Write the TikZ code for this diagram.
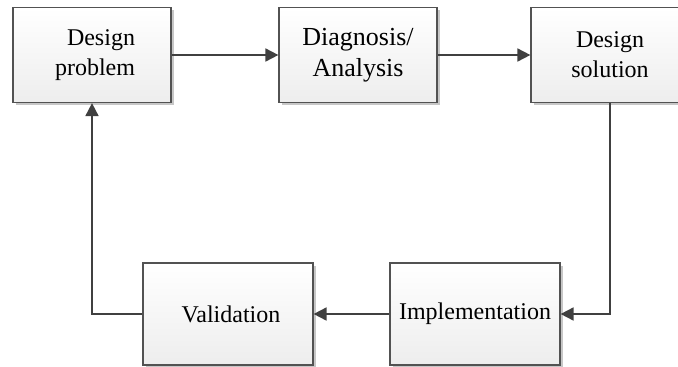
\documentclass[tikz,border=0pt]{standalone}
\usepackage{fontspec}
\setmainfont{Liberation Serif}
\usetikzlibrary{arrows.meta,shadows}
\begin{document}
\begin{tikzpicture}[x=1pt,y=-1pt,
  stagebox/.style={draw=black!68, line width=1.2pt, top color=white, bottom color=black!7,
    drop shadow={shadow xshift=2.5pt, shadow yshift=-2.5pt, fill=black!22, opacity=1},
    inner sep=0pt, align=center,
    font=\fontsize{24}{30}\selectfont},
  toprow/.style={stagebox, minimum width=158pt, minimum height=95pt},
  botrow/.style={stagebox, minimum width=170pt, minimum height=102pt},
  flow/.style={draw=black!75, line width=1.8pt,
    -{Triangle[length=13pt,width=13pt]}}
]
\useasboundingbox (0,0) rectangle (678,367);
\clip (0,0) rectangle (678,367);

% upper row
\node[toprow, text width=86pt, align=right] (problem) at (92,55) {Design\\problem};
\node[toprow, font=\fontsize{26}{31}\selectfont] (diag) at (358,55) {Diagnosis/\\Analysis};
\node[toprow] (solution) at (610,55) {Design\\solution};

% lower row
\node[botrow] (valid) at (228,314) {\hspace{6pt}Validation};
\node[botrow] (impl) at (475,314) {Implementation};

% cycle of connectors
\draw[flow] (problem.east) -- (diag.west);
\draw[flow] (diag.east) -- (solution.west);
\draw[flow] (solution.south) |- (impl.east);
\draw[flow] (impl.west) -- (valid.east);
\draw[flow] (valid.west) -| (problem.south);
\end{tikzpicture}
\end{document}
